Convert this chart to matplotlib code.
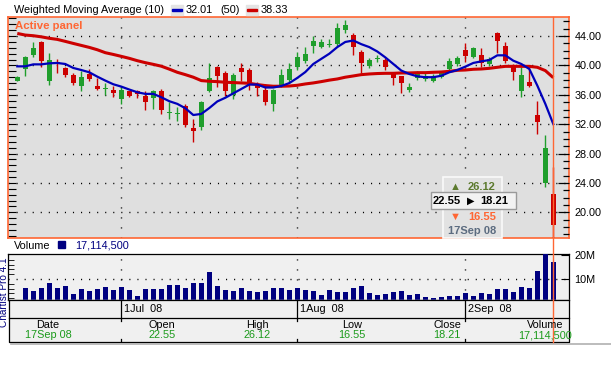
import numpy as np
import matplotlib
matplotlib.use('Agg')
import matplotlib.pyplot as plt
from matplotlib.patches import Rectangle
from matplotlib.ticker import MultipleLocator, FixedLocator

plt.rcParams['font.family'] = ['Liberation Sans', 'DejaVu Sans']

# Daily OHLC, 12 Jun 08 - 17 Sep 08
opens = [37.94, 39.48, 41.38, 43.23, 37.94, 40.52, 39.61, 38.75, 37.26, 38.84,
         37.26, 36.78, 36.72, 35.49, 36.49, 36.49, 35.90, 35.54, 36.58, 33.55,
         33.37, 34.54, 31.47, 31.60, 36.49, 39.84, 39.02, 36.04, 39.70, 39.43,
         37.48, 36.72, 34.81, 37.35, 38.07, 39.75, 40.65, 42.69, 42.55, 42.80,
         42.91, 44.77, 44.18, 41.87, 39.88, 40.85, 40.79, 38.84, 38.52, 36.72,
         38.25, 38.16, 37.94, 38.48, 39.52, 40.20, 42.14, 41.19, 41.47, 40.20,
         44.45, 42.64, 39.88, 36.49, 37.71, 33.19, 24.00, 22.55]
highs = [38.50, 41.33, 43.23, 43.37, 41.74, 40.88, 39.75, 38.93, 39.20, 39.52,
         38.30, 37.57, 37.17, 37.03, 36.58, 36.67, 36.58, 36.67, 36.85, 35.00,
         34.41, 34.77, 32.64, 35.10, 40.29, 39.90, 39.29, 38.98, 40.38, 39.61,
         37.71, 37.48, 36.81, 39.52, 40.38, 41.87, 42.55, 44.05, 43.59, 43.59,
         45.76, 46.20, 44.40, 42.10, 41.01, 41.38, 40.97, 38.93, 38.62, 37.62,
         39.20, 38.93, 38.84, 39.29, 40.97, 41.33, 43.05, 42.46, 42.37, 41.10,
         44.59, 43.23, 40.20, 39.75, 39.75, 35.22, 30.56, 26.12]
lows = [37.90, 38.52, 41.19, 39.75, 37.39, 38.93, 38.48, 37.30, 36.58, 37.94,
        36.67, 35.95, 35.76, 34.81, 35.67, 35.54, 34.00, 34.05, 33.37, 32.64,
        32.42, 31.60, 29.52, 31.15, 36.35, 37.03, 35.90, 35.40, 37.85, 36.72,
        35.90, 34.59, 33.86, 37.03, 37.71, 39.43, 40.38, 41.65, 42.33, 42.46,
        42.69, 44.36, 41.38, 39.02, 39.61, 40.43, 39.38, 37.39, 36.22, 36.35,
        38.03, 37.94, 37.71, 38.30, 39.07, 39.97, 40.52, 40.97, 39.84, 39.97,
        41.65, 40.38, 38.07, 35.67, 37.03, 30.61, 23.46, 16.55]
closes = [38.48, 41.19, 42.42, 40.65, 40.74, 40.20, 38.75, 37.57, 38.48, 38.21,
          36.85, 36.83, 36.22, 36.72, 35.90, 36.13, 35.09, 36.58, 34.00, 33.60,
          33.42, 31.83, 31.01, 35.09, 38.34, 38.62, 36.58, 38.75, 39.16, 37.35,
          36.90, 35.09, 36.62, 38.75, 39.57, 41.19, 41.60, 43.37, 43.23, 42.85,
          45.13, 45.49, 42.55, 40.29, 40.79, 40.90, 39.75, 38.25, 37.57, 37.12,
          38.84, 38.62, 38.62, 39.20, 40.65, 40.97, 41.33, 42.33, 40.34, 40.92,
          43.37, 40.56, 39.07, 38.75, 37.26, 32.28, 28.75, 18.21]

# Volume in millions, 13 Jun 08 - 17 Sep 08
volumes = [6.25, 5.0, 6.25, 8.33, 6.25, 7.1, 3.75, 5.8, 5.0, 5.8,
           6.67, 5.4, 6.67, 5.4, 2.9, 5.8, 5.8, 5.8, 7.5, 7.5,
           6.25, 8.33, 8.33, 12.9, 7.1, 5.4, 5.0, 6.25, 5.0, 4.6,
           5.0, 6.25, 6.25, 5.4, 6.25, 5.4, 5.0, 3.3, 5.4, 4.6,
           4.6, 6.25, 7.1, 4.2, 3.3, 3.75, 4.6, 5.0, 3.3, 3.75,
           2.5, 2.1, 2.5, 2.9, 2.9, 4.2, 2.9, 4.2, 3.75, 5.8,
           5.8, 4.6, 6.67, 6.25, 13.3, 21.5, 17.1145]

# Weighted moving averages as drawn on the chart
wma10 = [39.88, 39.88, 40.15, 40.15, 40.29, 40.34, 40.20, 39.66, 39.38, 39.07,
         38.48, 37.94, 37.44, 37.12, 36.72, 36.35, 36.13, 36.13, 35.67, 35.13,
         34.77, 34.18, 33.25, 33.40, 34.20, 35.10, 35.60, 36.20, 36.80, 37.40,
         37.40, 37.00, 37.00, 37.20, 37.60, 38.30, 39.10, 40.20, 40.90, 41.60,
         42.50, 43.20, 43.40, 42.90, 42.50, 41.90, 41.10, 40.20, 39.30, 38.84,
         38.52, 38.40, 38.40, 38.60, 39.07, 39.38, 39.84, 40.34, 40.56, 40.74,
         41.38, 41.38, 40.65, 40.20, 39.52, 37.26, 34.77, 32.01]
wma50 = [44.36, 44.14, 44.05, 43.90, 43.70, 43.55, 43.28, 43.00, 42.73, 42.46,
         42.14, 41.74, 41.50, 41.24, 40.97, 40.65, 40.38, 40.15, 39.90, 39.50,
         39.07, 38.75, 38.40, 37.94, 37.85, 37.80, 37.71, 37.67, 37.62, 37.57,
         37.40, 37.26, 37.17, 37.17, 37.20, 37.30, 37.48, 37.62, 37.80, 38.00,
         38.16, 38.40, 38.57, 38.75, 38.84, 38.90, 38.93, 38.93, 38.98, 38.98,
         39.02, 39.02, 39.07, 39.11, 39.20, 39.34, 39.38, 39.48, 39.52, 39.61,
         39.75, 39.88, 39.88, 39.88, 39.88, 39.75, 39.30, 38.33]

month_idx = [13, 35, 56]
month_labels = ['1Jul  08', '1Aug  08', '2Sep  08']
price_ticks = [20, 24, 28, 32, 36, 40, 44]

W, H = 611, 384
GREEN = '#1f9e2c'
RED = '#cc0000'
ORANGE = '#ff6633'
NAVY = '#000080'


def box(x0, y0, x1, y1):
    return [x0 / W, 1 - y1 / H, (x1 - x0) / W, (y1 - y0) / H]


fig = plt.figure(figsize=(W / 100, H / 100), dpi=100)
x = np.arange(len(closes))
xlim = (-1.16, 68.96)

# ---- price panel ----
ax = fig.add_axes(box(8, 17, 569, 238))
ax.set_facecolor('#dfdfdf')
ax.set_xlim(*xlim)
ax.set_ylim(16.5, 46.6)
for s in ax.spines.values():
    s.set_color(ORANGE)
    s.set_linewidth(1.2)

for p in price_ticks:
    ax.axhline(p, color='black', lw=1.0, ls=(0, (0.8, 5)), zorder=1)
for m in month_idx:
    ax.axvline(m, color='black', lw=1.0, ls=(0, (0.8, 6.4)), zorder=1)

for i in range(len(closes)):
    up = closes[i] >= opens[i]
    col = GREEN if up else RED
    ax.vlines(i, lows[i], highs[i], color=col, lw=1.0, zorder=3)
    h = max(abs(closes[i] - opens[i]), 0.14)
    ax.bar(i, h, bottom=min(opens[i], closes[i]), width=0.62, color=col,
           lw=0, zorder=4)

ax.plot(x, wma50, color=RED, lw=2.2, zorder=5, solid_capstyle='butt')
ax.plot(x, wma10, color='#0000bb', lw=1.6, zorder=6)

ax.set_xticks([])
ax.yaxis.set_major_locator(FixedLocator([]))
ax.yaxis.set_minor_locator(MultipleLocator(0.8))
ax.tick_params(axis='y', which='minor', left=True, right=False, direction='in',
               length=6, width=0.8, color='black')

axr = ax.twinx()
axr.set_ylim(ax.get_ylim())
axr.set_yticks(price_ticks)
axr.set_yticklabels(['%.2f' % p for p in price_ticks], fontsize=7.8)
axr.yaxis.set_minor_locator(MultipleLocator(1))
axr.tick_params(axis='y', which='major', direction='in', length=8, width=0.9,
                pad=4)
axr.tick_params(axis='y', which='minor', direction='in', length=4, width=0.9)
for s in axr.spines.values():
    s.set_visible(False)

ax.text(0.012, 0.982, 'Active panel', transform=ax.transAxes, color=ORANGE,
        fontsize=8.2, fontweight='bold', va='top', ha='left', zorder=8)

# ---- volume panel ----
av = fig.add_axes(box(8, 254, 569, 300))
av.set_facecolor('#f0f0f0')
av.set_xlim(*xlim)
av.set_ylim(1.25, 20.4)
for s in av.spines.values():
    s.set_color('black')
    s.set_linewidth(0.9)
av.axhline(10, color='black', lw=1.0, ls=(0, (0.8, 5)), zorder=1)
for m in month_idx:
    av.axvline(m, color='black', lw=1.0, ls=(0, (0.8, 6.4)), zorder=1)
av.bar(x[1:], volumes, width=0.6, color=NAVY, lw=0, zorder=3)
av.set_xticks([])
av.yaxis.tick_right()
av.set_yticks([10, 20])
av.set_yticklabels(['10M', '20M'], fontsize=7.8)
av.yaxis.set_minor_locator(MultipleLocator(2))
av.tick_params(axis='y', which='major', direction='in', length=6, pad=4)
av.tick_params(axis='y', which='minor', left=True, right=False,
               direction='in', length=4)

# ---- overlay for texts, table and tooltip ----
ov = fig.add_axes([0, 0, 1, 1], zorder=10)
ov.set_xlim(0, W)
ov.set_ylim(H, 0)
ov.axis('off')
ov.patch.set_alpha(0)

fs = 7.8
ov.text(14, 10, 'Weighted Moving Average (10)', fontsize=fs, va='center')
ov.add_patch(Rectangle((171, 5), 12, 10, color='#e4e4e4'))
ov.add_patch(Rectangle((172, 9), 10, 2.2, color='#0000bb'))
ov.text(186, 10, '32.01', fontsize=fs, va='center')
ov.text(220, 10, '(50)', fontsize=fs, va='center')
ov.add_patch(Rectangle((246, 5), 12, 10, color='#e4e4e4'))
ov.add_patch(Rectangle((247, 9), 10, 2.2, color=RED))
ov.text(261, 10, '38.33', fontsize=fs, va='center')

ov.text(14, 246, 'Volume', fontsize=fs, va='center')
ov.add_patch(Rectangle((58, 241), 7, 7, color=NAVY))
ov.text(75, 246, '17,114,500', fontsize=fs, va='center', color=NAVY)
ov.text(4.5, 292, 'Chartist Pro 4.1', fontsize=7.2, rotation=90, color=NAVY,
        ha='center', va='center')

# date / info table
tl, tr, t0, t1, t2 = 9, 569, 300, 318, 342
ov.plot([tl, tr, tr, tl, tl], [t0, t0, t2, t2, t0], color='black', lw=0.9)
ov.plot([tl, tr], [t1, t1], color='black', lw=0.9)
ov.add_patch(Rectangle((tl, t0), tr - tl, t2 - t0, color='#f0f0f0', zorder=0))
ov.plot([tl + 2, W], [t2 + 2, t2 + 2], color='#b0b0b0', lw=1.2)
for m, lab in zip(month_idx, month_labels):
    px = ax.transData.transform((m, 0))[0]
    ov.plot([px, px], [t0, t1], color='black', lw=0.9)
    ov.plot([px, px], [t1 + 1, t1 + 3], color='black', lw=0.9)
    ov.plot([px, px], [t2 - 3, t2 - 1], color='black', lw=0.9)
    ov.text(px + 3, (t0 + t1) / 2, lab, fontsize=fs, va='center')

info_labels = ['Date', 'Open', 'High', 'Low', 'Close', 'Volume']
info_values = ['17Sep 08', '22.55', '26.12', '16.55', '18.21', '17,114,500']
info_x = [48, 162, 257, 352, 447, 545]
for lx, lab, val in zip(info_x, info_labels, info_values):
    ov.text(lx, 325, lab, fontsize=fs, ha='center', va='center')
    ov.text(lx, 335, val, fontsize=fs, ha='center', va='center',
            color='#1a9a1a')

# cursor line through last bar
cx = ax.transData.transform((len(closes) - 1, 0))[0]
ov.plot([cx, cx], [17, t2], color=ORANGE, lw=1.0, zorder=2)

# tooltip for last bar
ov.add_patch(Rectangle((443, 177), 59, 61, facecolor='#e2e2e2',
                       edgecolor='#fafafa', lw=1.2, zorder=11))
ov.add_patch(Rectangle((431, 192), 85, 17, facecolor='#f2f2f2',
                       edgecolor='#9a9a9a', lw=1.0, zorder=12))
ov.text(455, 186.5, '\u25B2', color='#5c7a2e', fontsize=8, ha='center',
        va='center', zorder=13)
ov.text(468, 186.5, '26.12', color='#5c7a2e', fontsize=8, fontweight='bold',
        va='center', zorder=13)
ov.text(433, 201, '22.55', color='black', fontsize=8, fontweight='bold',
        va='center', zorder=13)
ov.text(471, 201, '\u25B6', color='black', fontsize=7, ha='center',
        va='center', zorder=13)
ov.text(480, 201, '18.21', color='black', fontsize=8, fontweight='bold',
        va='center', zorder=13)
ov.text(455, 216.5, '\u25BC', color=ORANGE, fontsize=8, ha='center',
        va='center', zorder=13)
ov.text(468, 216.5, '16.55', color=ORANGE, fontsize=8, fontweight='bold',
        va='center', zorder=13)
ov.text(472, 230.5, '17Sep 08', color='#5c6c80', fontsize=8,
        fontweight='bold', ha='center', va='center', zorder=13)

fig.savefig('out.png', dpi=100)
